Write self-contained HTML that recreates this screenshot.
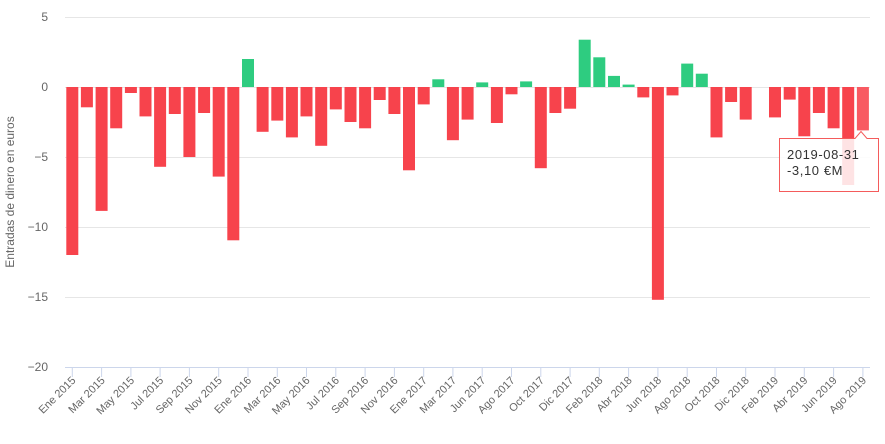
<!DOCTYPE html>
<html><head><meta charset="utf-8"><style>
html,body{margin:0;padding:0;background:#fff;}
svg{display:block;font-family:"Liberation Sans","DejaVu Sans",sans-serif;}
</style></head><body>
<svg width="885" height="444" viewBox="0 0 885 444" xmlns="http://www.w3.org/2000/svg">
<g stroke="#e6e6e6" stroke-width="1">
<line x1="65" y1="17.5" x2="870" y2="17.5"/>
<line x1="65" y1="87.5" x2="870" y2="87.5"/>
<line x1="65" y1="157.5" x2="870" y2="157.5"/>
<line x1="65" y1="227.5" x2="870" y2="227.5"/>
<line x1="65" y1="297.5" x2="870" y2="297.5"/>
</g>
<g font-size="12" fill="#666" text-anchor="end">
<text x="48" y="21">5</text>
<text x="48" y="91">0</text>
<text x="48" y="161">−5</text>
<text x="48" y="231">−10</text>
<text x="48" y="301">−15</text>
<text x="48" y="371">−20</text>
</g>
<text transform="translate(14,192) rotate(-90)" font-size="12" fill="#666" text-anchor="middle">Entradas de dinero en euros</text>
<g fill="#f7434c">
<rect x="66.3" y="87" width="12" height="168"/>
<rect x="80.9" y="87" width="12" height="20.3"/>
<rect x="95.6" y="87" width="12" height="123.9"/>
<rect x="110.2" y="87" width="12" height="41.3"/>
<rect x="124.9" y="87" width="12" height="6"/>
<rect x="139.5" y="87" width="12" height="29.4"/>
<rect x="154.1" y="87" width="12" height="79.8"/>
<rect x="168.8" y="87" width="12" height="27"/>
<rect x="183.4" y="87" width="12" height="70"/>
<rect x="198.1" y="87" width="12" height="26"/>
<rect x="212.7" y="87" width="12" height="89.6"/>
<rect x="227.3" y="87" width="12" height="153.3"/>
<rect x="256.6" y="87" width="12" height="44.8"/>
<rect x="271.3" y="87" width="12" height="33.6"/>
<rect x="285.9" y="87" width="12" height="50.4"/>
<rect x="300.5" y="87" width="12" height="29.4"/>
<rect x="315.2" y="87" width="12" height="58.8"/>
<rect x="329.8" y="87" width="12" height="22.4"/>
<rect x="344.5" y="87" width="12" height="35"/>
<rect x="359.1" y="87" width="12" height="41.3"/>
<rect x="373.7" y="87" width="12" height="13"/>
<rect x="388.4" y="87" width="12" height="27"/>
<rect x="403.0" y="87" width="12" height="83.3"/>
<rect x="417.7" y="87" width="12" height="17.4"/>
<rect x="446.9" y="87" width="12" height="53.2"/>
<rect x="461.6" y="87" width="12" height="32.6"/>
<rect x="490.9" y="87" width="12" height="36"/>
<rect x="505.5" y="87" width="12" height="7.3"/>
<rect x="534.8" y="87" width="12" height="81.2"/>
<rect x="549.4" y="87" width="12" height="26"/>
<rect x="564.1" y="87" width="12" height="21.7"/>
<rect x="637.3" y="87" width="12" height="10.4"/>
<rect x="651.9" y="87" width="12" height="212.8"/>
<rect x="666.5" y="87" width="12" height="8.4"/>
<rect x="710.5" y="87" width="12" height="50.4"/>
<rect x="725.1" y="87" width="12" height="15"/>
<rect x="739.7" y="87" width="12" height="32.6"/>
<rect x="769.0" y="87" width="12" height="30.4"/>
<rect x="783.7" y="87" width="12" height="12.6"/>
<rect x="798.3" y="87" width="12" height="49.3"/>
<rect x="812.9" y="87" width="12" height="26"/>
<rect x="827.6" y="87" width="12" height="41.3"/>
<rect x="842.2" y="87" width="12" height="98"/>
<rect x="856.9" y="87" width="12" height="43.4" fill="#f85a62"/>
</g>
<g fill="#2ecc80">
<rect x="242.0" y="59" width="12" height="28"/>
<rect x="432.3" y="79.3" width="12" height="7.7"/>
<rect x="476.2" y="82.4" width="12" height="4.6"/>
<rect x="520.1" y="81.4" width="12" height="5.6"/>
<rect x="578.7" y="39.7" width="12" height="47.3"/>
<rect x="593.3" y="57.3" width="12" height="29.7"/>
<rect x="608.0" y="75.9" width="12" height="11.1"/>
<rect x="622.6" y="84.6" width="12" height="2.4"/>
<rect x="681.2" y="63.6" width="12" height="23.4"/>
<rect x="695.8" y="73.7" width="12" height="13.3"/>
</g>
<line x1="65" y1="367.5" x2="870" y2="367.5" stroke="#ccd6eb" stroke-width="1"/>
<g stroke="#ccd6eb" stroke-width="1">
<path d="M72.3 367V377M101.6 367V377M130.9 367V377M160.1 367V377M189.4 367V377M218.7 367V377M248 367V377M277.3 367V377M306.5 367V377M335.8 367V377M365.1 367V377M394.4 367V377M423.7 367V377M452.9 367V377M482.2 367V377M511.5 367V377M540.8 367V377M570.1 367V377M599.3 367V377M628.6 367V377M657.9 367V377M687.2 367V377M716.5 367V377M745.7 367V377M775 367V377M804.3 367V377M833.6 367V377M862.9 367V377"/>
</g>
<g font-size="11" fill="#666" text-anchor="end">
<text transform="translate(76.3,381) rotate(-45)">Ene 2015</text>
<text transform="translate(105.6,381) rotate(-45)">Mar 2015</text>
<text transform="translate(134.9,381) rotate(-45)">May 2015</text>
<text transform="translate(164.1,381) rotate(-45)">Jul 2015</text>
<text transform="translate(193.4,381) rotate(-45)">Sep 2015</text>
<text transform="translate(222.7,381) rotate(-45)">Nov 2015</text>
<text transform="translate(252,381) rotate(-45)">Ene 2016</text>
<text transform="translate(281.3,381) rotate(-45)">Mar 2016</text>
<text transform="translate(310.5,381) rotate(-45)">May 2016</text>
<text transform="translate(339.8,381) rotate(-45)">Jul 2016</text>
<text transform="translate(369.1,381) rotate(-45)">Sep 2016</text>
<text transform="translate(398.4,381) rotate(-45)">Nov 2016</text>
<text transform="translate(427.7,381) rotate(-45)">Ene 2017</text>
<text transform="translate(456.9,381) rotate(-45)">Mar 2017</text>
<text transform="translate(486.2,381) rotate(-45)">Jun 2017</text>
<text transform="translate(515.5,381) rotate(-45)">Ago 2017</text>
<text transform="translate(544.8,381) rotate(-45)">Oct 2017</text>
<text transform="translate(574.1,381) rotate(-45)">Dic 2017</text>
<text transform="translate(603.3,381) rotate(-45)">Feb 2018</text>
<text transform="translate(632.6,381) rotate(-45)">Abr 2018</text>
<text transform="translate(661.9,381) rotate(-45)">Jun 2018</text>
<text transform="translate(691.2,381) rotate(-45)">Ago 2018</text>
<text transform="translate(720.5,381) rotate(-45)">Oct 2018</text>
<text transform="translate(749.7,381) rotate(-45)">Dic 2018</text>
<text transform="translate(779,381) rotate(-45)">Feb 2019</text>
<text transform="translate(808.3,381) rotate(-45)">Abr 2019</text>
<text transform="translate(837.6,381) rotate(-45)">Jun 2019</text>
<text transform="translate(866.9,381) rotate(-45)">Ago 2019</text>
</g>
<g>
<path d="M779.5,138.5 H855 L861,131.5 L867,138.5 H878.5 V191.5 H779.5 Z" fill="rgba(255,255,255,0.85)" stroke="#f45b5b" stroke-width="1"/>
<text x="787" y="159" font-size="13" fill="#333" letter-spacing="0.6">2019-08-31</text>
<text x="787" y="175" font-size="13" fill="#333" letter-spacing="0.6">-3,10 €M</text>
</g>
</svg>
</body></html>
